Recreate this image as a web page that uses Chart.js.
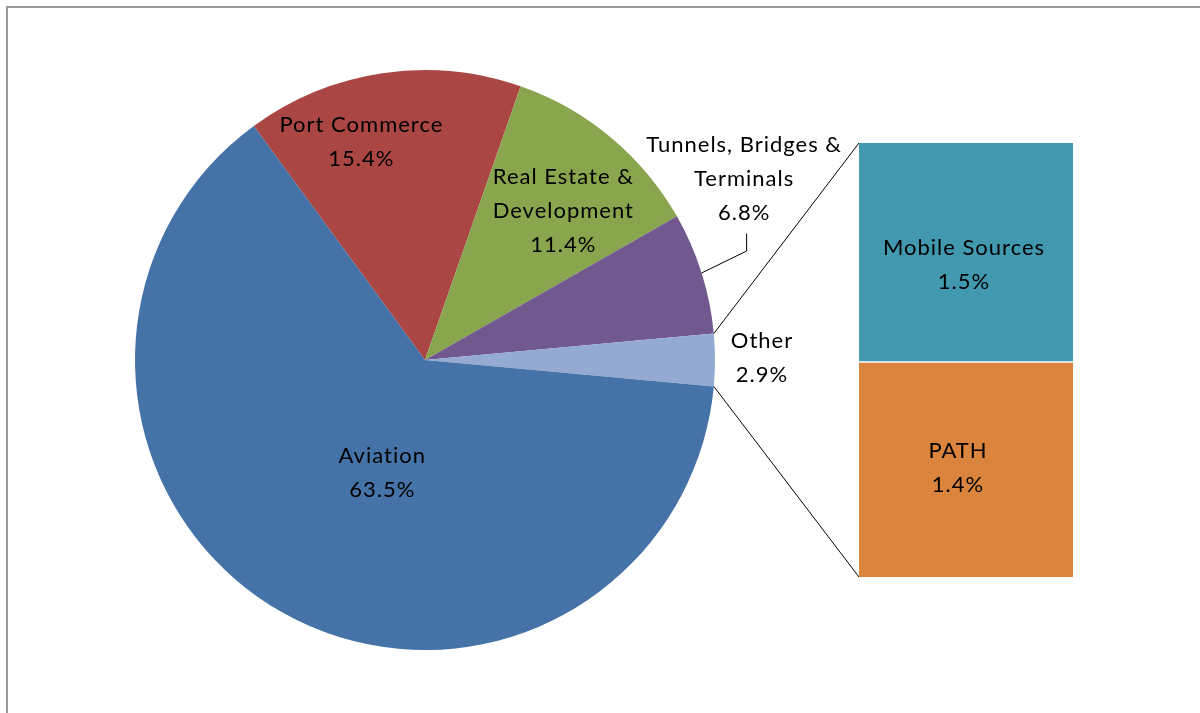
<!DOCTYPE html>
<html>
<head>
<meta charset="utf-8">
<script src="https://cdn.jsdelivr.net/npm/chart.js@4"></script>
<style>
  html, body { margin: 0; padding: 0; width: 1200px; height: 713px; overflow: hidden; background: #fff; }
  #frame { position: absolute; left: 6px; top: 6px; width: 1300px; height: 800px; border: 2px solid #9a9a9a; box-sizing: border-box; }
  #pieWrap { position: absolute; left: 0; top: 0; width: 1200px; height: 713px; }
  #barWrap { position: absolute; left: 859px; top: 143px; width: 214px; height: 434px; }
</style>
</head>
<body>
<div id="frame"></div>
<div id="pieWrap"><canvas id="pie"></canvas></div>
<div id="barWrap"><canvas id="bar"></canvas></div>
<script>
// ---- data ----
const pieCategories = ['Port Commerce', 'Real Estate &\nDevelopment', 'Tunnels, Bridges &\nTerminals', 'Other', 'Aviation'];
const pieValues = [15.4, 11.4, 6.8, 2.9, 63.5];
const pieColors = ['#AA4643', '#89A54E', '#71588F', '#95AAD2', '#4572A7'];

const barCategories = ['PATH', 'Mobile Sources'];
const barValues = [1.43, 1.47];
const barColors = ['#DB843D', '#4198AF'];

const FONT = '22px Lato, "Open Sans", sans-serif';
const LH = 34;

// rotation so the "Other" slice is centred at 3 o'clock
const total = pieValues.reduce((a, b) => a + b, 0);
const otherIdx = 3;
const before = pieValues.slice(0, otherIdx).reduce((a, b) => a + b, 0) + pieValues[otherIdx] / 2;
const rotationDeg = 90 - before / total * 360;

// label placement tweaks relative to slice anchor
const labelLayout = [
  { mode: 'in', dx: -38, dy: -39 },
  { mode: 'in', dx: 27, dy: -8 },
  { mode: 'leader', dx: 42.5, dy: -87.3 },
  { mode: 'edge', dx: 47, dy: 5 },
  { mode: 'in', dx: 43, dy: -31 }
];
const barLabelLayout = [
  { dx: -8, dy: 5 },
  { dx: -2, dy: 19 }
];

function drawLines(ctx, lines, x, yMid) {
  const n = lines.length;
  let y = yMid - (n - 1) * LH / 2;
  lines.forEach(l => { ctx.fillText(l, x, y); y += LH; });
}

function setFont(ctx) {
  ctx.font = FONT;
  ctx.fillStyle = '#000';
  ctx.textAlign = 'center';
  ctx.textBaseline = 'alphabetic';
  if ('letterSpacing' in ctx) ctx.letterSpacing = '1px';
}

const pieLabels = {
  id: 'pieLabels',
  afterDatasetsDraw(chart) {
    const ctx = chart.ctx;
    const meta = chart.getDatasetMeta(0);
    ctx.save();
    setFont(ctx);
    meta.data.forEach((arc, i) => {
      const p = arc.getProps(['x', 'y', 'startAngle', 'endAngle', 'outerRadius'], true);
      const mid = (p.startAngle + p.endAngle) / 2;
      const lay = labelLayout[i];
      const lines = pieCategories[i].split('\n').concat([pieValues[i].toFixed(1) + '%']);
      let ax, ay;
      if (lay.mode === 'in') {
        ax = p.x + Math.cos(mid) * p.outerRadius * 0.6;
        ay = p.y + Math.sin(mid) * p.outerRadius * 0.6;
        drawLines(ctx, lines, ax + lay.dx, ay + lay.dy);
      } else if (lay.mode === 'edge') {
        ax = p.x + Math.cos(mid) * p.outerRadius;
        ay = p.y + Math.sin(mid) * p.outerRadius;
        drawLines(ctx, lines, ax + lay.dx, ay + lay.dy);
      } else {
        ax = p.x + Math.cos(mid) * p.outerRadius;
        ay = p.y + Math.sin(mid) * p.outerRadius;
        const bx = ax + 45, by = ay - 22;
        const tx = bx, ty = by - 17.5;
        ctx.save();
        ctx.strokeStyle = '#000';
        ctx.lineWidth = 1;
        ctx.beginPath();
        ctx.moveTo(ax, ay); ctx.lineTo(bx, by); ctx.lineTo(tx, ty);
        ctx.stroke();
        ctx.restore();
        drawLines(ctx, lines, ax + lay.dx, ay + lay.dy);
      }
    });
    // connector lines from "Other" slice to the bar
    const o = meta.data[otherIdx].getProps(['x', 'y', 'startAngle', 'endAngle', 'outerRadius'], true);
    const barEl = document.getElementById('barWrap');
    const bx = barEl.offsetLeft, byTop = barEl.offsetTop, byBot = barEl.offsetTop + barEl.offsetHeight;
    ctx.strokeStyle = '#000';
    ctx.lineWidth = 1;
    ctx.beginPath();
    ctx.moveTo(o.x + Math.cos(o.startAngle) * o.outerRadius, o.y + Math.sin(o.startAngle) * o.outerRadius);
    ctx.lineTo(bx, byTop);
    ctx.moveTo(o.x + Math.cos(o.endAngle) * o.outerRadius, o.y + Math.sin(o.endAngle) * o.outerRadius);
    ctx.lineTo(bx, byBot);
    ctx.stroke();
    ctx.restore();
  }
};

const barLabels = {
  id: 'barLabels',
  afterDatasetsDraw(chart) {
    const ctx = chart.ctx;
    ctx.save();
    setFont(ctx);
    chart.data.datasets.forEach((ds, i) => {
      const el = chart.getDatasetMeta(i).data[0];
      const p = el.getProps(['x', 'y', 'base'], true);
      const cy = (p.y + p.base) / 2;
      const lay = barLabelLayout[i];
      drawLines(ctx, [barCategories[i], (Math.round(barValues[i] * 10) / 10).toFixed(1) + '%'], p.x + lay.dx, cy + lay.dy);
    });
    ctx.restore();
  }
};

new Chart(document.getElementById('bar'), {
  type: 'bar',
  data: {
    labels: [''],
    datasets: barCategories.map((c, i) => ({
      label: c,
      data: [barValues[i]],
      backgroundColor: barColors[i],
      borderColor: '#ffffff',
      borderWidth: i === 1 ? { bottom: 2, top: 0, left: 0, right: 0 } : 0,
      borderSkipped: false,
      barPercentage: 1,
      categoryPercentage: 1
    }))
  },
  options: {
    responsive: true,
    maintainAspectRatio: false,
    animation: false,
    layout: { padding: 0 },
    plugins: { legend: { display: false }, tooltip: { enabled: false } },
    scales: {
      x: { stacked: true, display: false },
      y: { stacked: true, display: false, min: 0, max: barValues[0] + barValues[1] }
    }
  },
  plugins: [barLabels]
});

new Chart(document.getElementById('pie'), {
  type: 'pie',
  data: {
    labels: pieCategories,
    datasets: [{
      data: pieValues,
      backgroundColor: pieColors,
      borderWidth: 0
    }]
  },
  options: {
    responsive: true,
    maintainAspectRatio: false,
    animation: false,
    rotation: rotationDeg,
    layout: { padding: { left: 135, right: 485, top: 70, bottom: 63 } },
    plugins: { legend: { display: false }, tooltip: { enabled: false } }
  },
  plugins: [pieLabels]
});
</script>
</body>
</html>
